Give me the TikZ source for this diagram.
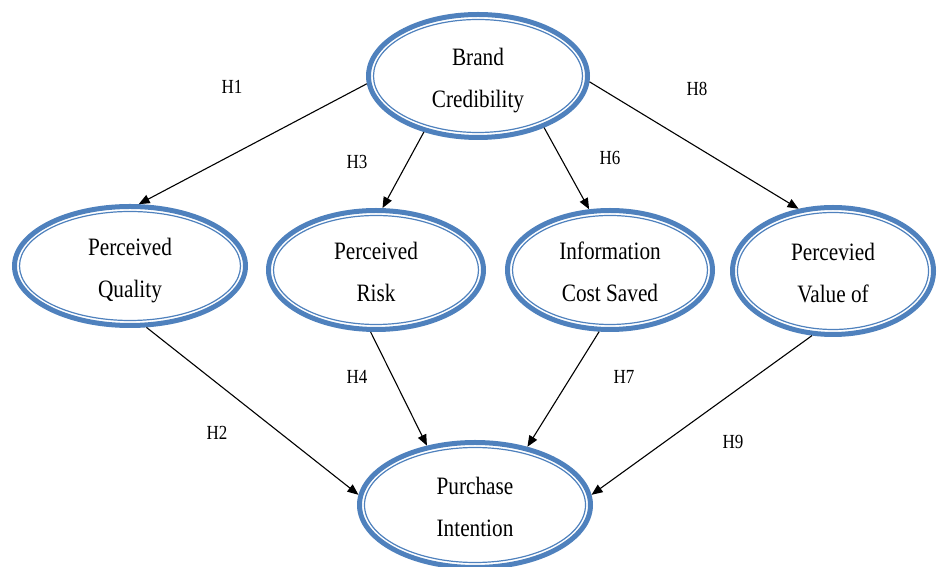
\documentclass[tikz,border=0pt]{standalone}
\usepackage{fontspec}
\setmainfont{Liberation Serif}[FakeStretch=0.85]
\usetikzlibrary{arrows.meta,shapes.geometric}
\definecolor{ringblue}{RGB}{79,129,189}
\newcommand\twolines[3]{%
  \node[txt, anchor=base] (#1a) at ([yshift=10pt]#1.center) {#2};
  \node[txt, anchor=base] (#1b) at ([yshift=-32pt]#1.center) {#3};}
\begin{document}
\begin{tikzpicture}[x=1pt,y=1pt,
  ring/.style={ellipse, draw=ringblue, line width=5pt, inner sep=0pt},
  innerring/.style={draw=ringblue, line width=1.2pt},
  txt/.style={font=\fontsize{25}{30}\selectfont, inner sep=0pt},
  hyp/.style={font=\fontsize{20}{24}\selectfont, inner sep=0pt},
  link/.style={draw=black, line width=1.1pt, -{Triangle[length=11pt,width=9pt]}}]
\useasboundingbox (0,0) rectangle (937,567);

% ellipses
\node[ring, minimum width=219pt, minimum height=123pt] (bc) at (478,491) {};
\node[ring, minimum width=231pt, minimum height=119pt] (pq) at (130,301) {};
\node[ring, minimum width=215pt, minimum height=119pt] (pr) at (376,297) {};
\node[ring, minimum width=205pt, minimum height=119pt] (ic) at (610,297) {};
\node[ring, minimum width=201pt, minimum height=127pt] (pv) at (833,296) {};
\node[ring, minimum width=231pt, minimum height=125pt] (pi) at (475,62) {};

\draw[innerring] (bc.center) ellipse [x radius=104.5, y radius=56.5];
\draw[innerring] (pq.center) ellipse [x radius=110.5, y radius=54.5];
\draw[innerring] (pr.center) ellipse [x radius=102.5, y radius=54.5];
\draw[innerring] (ic.center) ellipse [x radius=97.5, y radius=54.5];
\draw[innerring] (pv.center) ellipse [x radius=95.5, y radius=58.5];
\draw[innerring] (pi.center) ellipse [x radius=110.5, y radius=57.5];

% texts
\twolines{bc}{Brand}{Credibility}
\twolines{pq}{Perceived}{Quality}
\twolines{pr}{Perceived}{Risk}
\twolines{ic}{Information}{Cost Saved}
\twolines{pv}{Percevied}{Value of}
\twolines{pi}{Purchase}{Intention}

% connectors
\draw[link] (bc.184) -- (pq.82);
\draw[link] (bc.226) -- (pr.84);
\draw[link] (bc.322) -- (ic.109);
\draw[link] (bc.357) -- (pv.119);
\draw[link] (pq.285) -- (pi.175);
\draw[link] (pr.265) -- (pi.129);
\draw[link] (ic.260) -- (pi.48);
\draw[link] (pv.252) -- (pi.5);

% hypothesis labels
\node[hyp] (h1) at (232,480) {H1};
\node[hyp] (h3) at (357,405) {H3};
\node[hyp] (h8) at (697,478) {H8};
\node[hyp] (h6) at (610,409) {H6};
\node[hyp] (h2) at (217,134) {H2};
\node[hyp] (h4) at (357,190) {H4};
\node[hyp] (h7) at (624,190) {H7};
\node[hyp] (h9) at (733,125) {H9};
\end{tikzpicture}
\end{document}
